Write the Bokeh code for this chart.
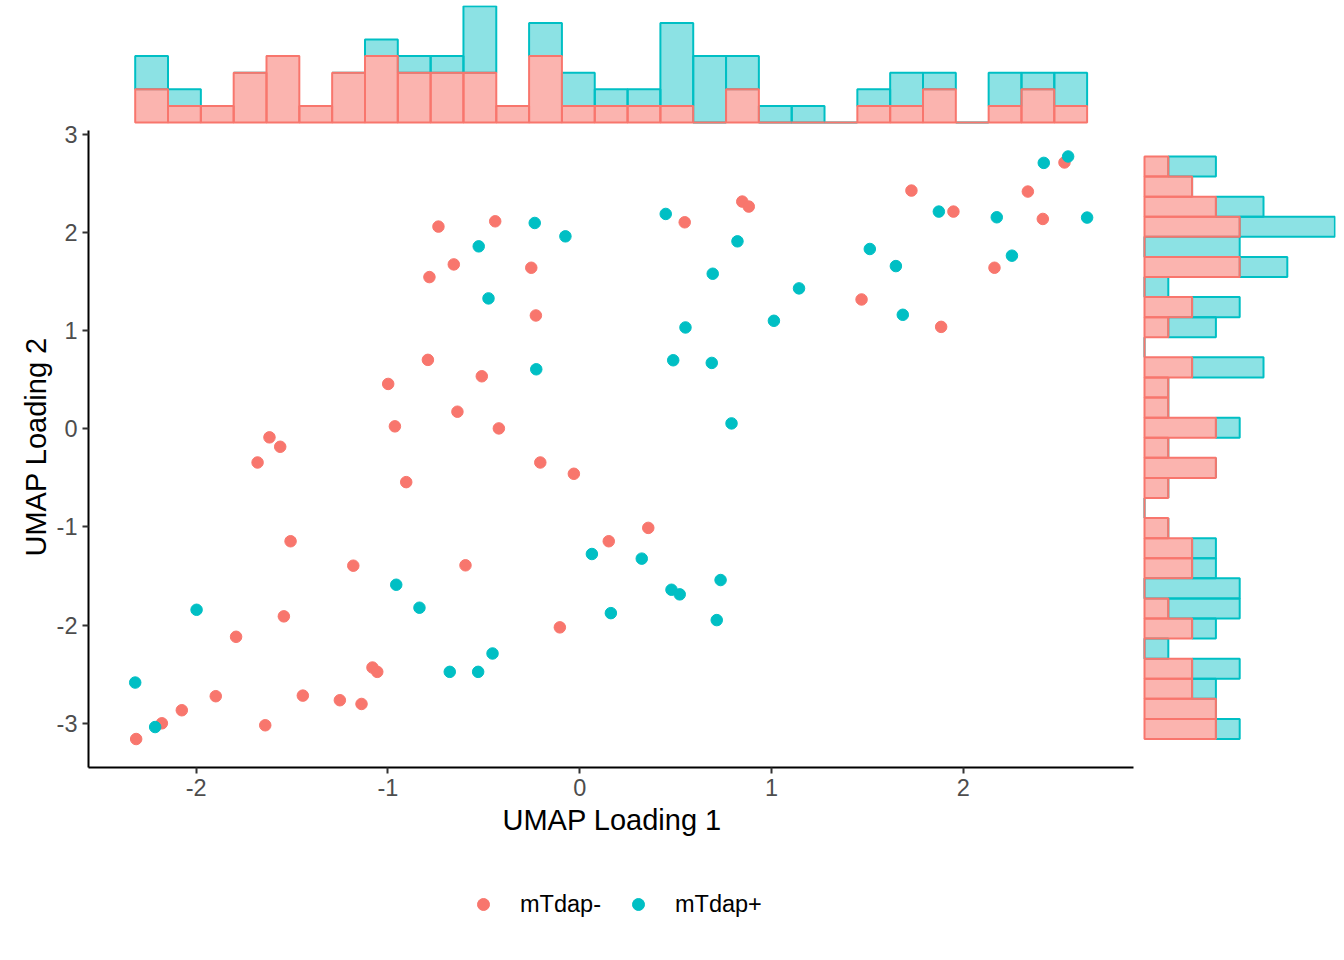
import numpy as np
from bokeh.plotting import figure
from bokeh.layouts import column
from bokeh.models import Range1d, FixedTicker, Legend, LegendItem, Title
from bokeh.embed import file_html
from bokeh.resources import INLINE

# ---- data ----
neg_x = [-0.737, -0.784, -0.792, -0.999, -0.964, -1.618, -1.562, -1.680, -0.905, -1.508,
         -1.181, -1.543, -1.792, -1.081, -1.056, -1.898, -1.444, -1.251, -1.138, -2.075,
         -2.179, -1.640, -2.313, -0.441, -0.657, -0.253, -0.229, -0.511, -0.638, -0.422,
         0.547, 0.847, 0.881, -0.206, -0.031, -0.596, 0.357, 0.151, -0.104, 2.527,
         1.729, 2.336, 1.948, 2.414, 2.162, 1.469, 1.884]
neg_y = [2.058, 1.544, 0.701, 0.456, 0.024, -0.088, -0.184, -0.344, -0.544, -1.146,
         -1.395, -1.911, -2.119, -2.432, -2.476, -2.724, -2.718, -2.765, -2.803, -2.867,
         -3.000, -3.020, -3.160, 2.112, 1.673, 1.639, 1.153, 0.534, 0.173, 0.003,
         2.102, 2.313, 2.262, -0.344, -0.459, -1.391, -1.010, -1.146, -2.023, 2.711,
         2.425, 2.415, 2.211, 2.136, 1.639, 1.316, 1.037]
pos_x = [-0.957, -0.836, -1.998, -0.678, -2.318, -2.214, -0.235, -0.075, -0.527, -0.476,
         -0.227, 0.448, 0.822, 0.693, 1.143, 1.012, 0.551, 0.487, 0.688, 0.791,
         0.063, 0.323, 0.734, 0.478, 0.521, 0.162, 0.714, -0.455, -0.530, 2.546,
         2.419, 1.872, 2.174, 2.645, 1.512, 1.648, 2.253, 1.684]
pos_y = [-1.589, -1.823, -1.844, -2.476, -2.585, -3.038, 2.095, 1.959, 1.857, 1.327,
         0.605, 2.187, 1.908, 1.578, 1.429, 1.099, 1.031, 0.697, 0.670, 0.054,
         -1.276, -1.323, -1.541, -1.640, -1.687, -1.878, -1.949, -2.289, -2.476, 2.772,
         2.707, 2.211, 2.153, 2.150, 1.830, 1.656, 1.762, 1.160]

# marginal histogram counts (x bins low->high, y bins low->high)
top_neg = [2, 1, 1, 3, 4, 1, 3, 4, 3, 3, 3, 1, 4, 1, 1, 1, 1, 0, 2, 0, 0, 0, 1, 1, 2, 0, 1, 2, 1]
top_pos = [2, 1, 0, 0, 0, 0, 0, 1, 1, 1, 4, 0, 2, 2, 1, 1, 5, 4, 2, 1, 1, 0, 1, 2, 1, 0, 2, 1, 2]
right_neg = [3, 3, 2, 2, 0, 2, 1, 0, 2, 2, 1, 0, 1, 3, 1, 3, 1, 1, 2, 0, 1, 2, 0, 4, 0, 4, 3, 2, 1]
right_pos = [1, 0, 1, 2, 1, 1, 3, 4, 1, 1, 0, 0, 0, 0, 0, 1, 0, 0, 3, 0, 2, 2, 1, 2, 4, 4, 2, 0, 2]

x_ticks = [-2, -1, 0, 1, 2]
y_ticks = [-3, -2, -1, 0, 1, 2, 3]
labels = ["mTdap-", "mTdap+"]
x_title = "UMAP Loading 1"
y_title = "UMAP Loading 2"
RED = "#F8766D"
TEAL = "#00BFC4"

all_x = neg_x + pos_x
all_y = neg_y + pos_y
xe = np.linspace(min(all_x), max(all_x), len(top_neg) + 1)
ye = np.linspace(min(all_y), max(all_y), len(right_neg) + 1)

FONT = "Liberation Sans"

p = figure(width=1344, height=860,
           x_range=Range1d(-2.5615, 3.940), y_range=Range1d(-3.450, 4.3096),
           output_backend="svg", toolbar_location=None, title=None,
           min_border_left=88, min_border_right=9, min_border_top=5, min_border_bottom=93)
p.extra_y_ranges = {"ty": Range1d(-38.855, 7.048)}
p.extra_x_ranges = {"rx": Range1d(-44.37, 8.025)}

p.xgrid.visible = False
p.ygrid.visible = False
p.outline_line_color = None
p.background_fill_color = "white"
p.border_fill_color = "white"

# top marginal histogram (stacked)
tn = np.array(top_neg)
tp = np.array(top_pos)
p.quad(left=xe[:-1], right=xe[1:], bottom=tn, top=tn + tp, y_range_name="ty",
       fill_color=TEAL, fill_alpha=0.45, line_color=TEAL, line_width=2)
p.quad(left=xe[:-1], right=xe[1:], bottom=0, top=tn, y_range_name="ty",
       fill_color=RED, fill_alpha=0.55, line_color=RED, line_width=2)

# right marginal histogram (stacked)
rn = np.array(right_neg)
rp = np.array(right_pos)
p.quad(left=rn, right=rn + rp, bottom=ye[:-1], top=ye[1:], x_range_name="rx",
       fill_color=TEAL, fill_alpha=0.45, line_color=TEAL, line_width=2)
p.quad(left=0, right=rn, bottom=ye[:-1], top=ye[1:], x_range_name="rx",
       fill_color=RED, fill_alpha=0.55, line_color=RED, line_width=2)

# scatter
p.scatter(neg_x, neg_y, size=11.5, color=RED)
p.scatter(pos_x, pos_y, size=11.5, color=TEAL)

# axes
for ax in (p.xaxis[0], p.yaxis[0]):
    ax.axis_line_width = 2
    ax.axis_line_color = "black"
    ax.major_tick_line_width = 2
    ax.major_tick_line_color = "#333333"
    ax.major_tick_out = 6
    ax.major_tick_in = 0
    ax.minor_tick_out = 0
    ax.minor_tick_in = 0
    ax.major_label_text_font = FONT
    ax.major_label_text_font_size = "23.5px"
    ax.major_label_text_color = "#4D4D4D"
    ax.major_label_standoff = 5

p.xaxis.ticker = FixedTicker(ticks=x_ticks)
p.yaxis.ticker = FixedTicker(ticks=y_ticks)
p.xaxis.major_label_overrides = {t: str(t) for t in x_ticks}
p.yaxis.major_label_overrides = {t: str(t) for t in y_ticks}
p.xaxis.bounds = (-2.5615, 2.887)
p.yaxis.bounds = (-3.450, 3.037)

# axis titles centred on the main panel (not on the whole frame)
tx = Title(text=x_title, align="left", offset=414, standoff=7,
           text_font=FONT, text_font_size="29px", text_font_style="normal", text_color="black")
p.add_layout(tx, "below")
ty = Title(text=y_title, align="left", offset=211, standoff=4,
           text_font=FONT, text_font_size="29px", text_font_style="normal", text_color="black")
p.add_layout(ty, "left")

# legend strip below the plot (its own renderers lie outside its view, only the key shows)
pl = figure(width=1344, height=100, x_range=Range1d(10, 11), y_range=Range1d(10, 11),
            output_backend="svg", toolbar_location=None, title=None,
            x_axis_location=None, y_axis_location=None,
            min_border_left=0, min_border_right=0, min_border_top=0, min_border_bottom=0)
pl.xgrid.visible = False
pl.ygrid.visible = False
pl.outline_line_color = None
pl.background_fill_color = "white"
pl.border_fill_color = "white"
k_neg = pl.scatter(neg_x, neg_y, size=11.5, color=RED)
k_pos = pl.scatter(pos_x, pos_y, size=11.5, color=TEAL)
legend = Legend(items=[LegendItem(label=labels[0], renderers=[k_neg]),
                       LegendItem(label=labels[1], renderers=[k_pos])],
                location=(380, 41), orientation="horizontal",
                glyph_width=30, glyph_height=30, label_standoff=22, spacing=22,
                padding=0, margin=0, border_line_color=None, background_fill_alpha=0,
                label_text_font=FONT, label_text_font_size="23.5px", label_text_color="black")
pl.add_layout(legend)

layout = column(p, pl, spacing=0)
open("out.html", "w").write(file_html(layout, INLINE))
